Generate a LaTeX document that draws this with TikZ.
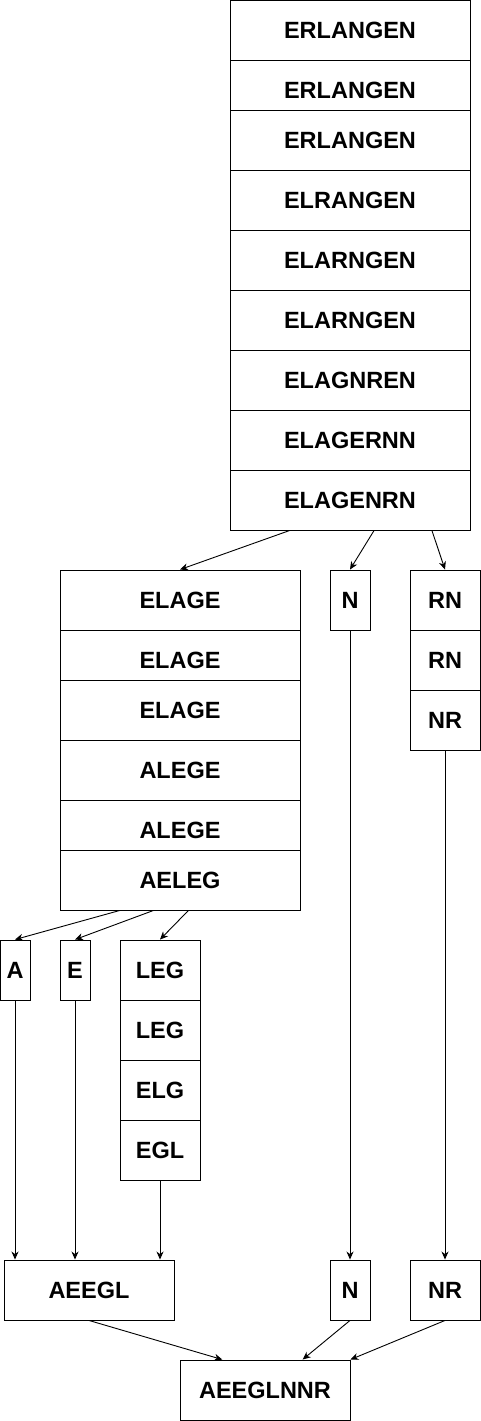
\documentclass[tikz,border=0pt]{standalone}
\usepackage{fontspec}
\setmainfont{Liberation Sans}
\usetikzlibrary{positioning,calc,arrows.meta}

\begin{document}
\begin{tikzpicture}[
x=1pt,y=-1pt,
cell/.style={
  draw,
  fill=white,
  inner sep=0pt,
  minimum height=60pt,
  font=\fontsize{23.5}{28}\selectfont\bfseries
  },
wide/.style={cell, minimum width=240pt},
slim/.style={cell, minimum width=30pt},
line width=0.9pt,
>={Stealth[length=8pt,width=7pt,inset=2.5pt]}
]
\useasboundingbox (0,0) rectangle (481,1421);

% first split
\foreach \y/\w [count=\i] in {30/ERLANGEN,90/ERLANGEN,140/ERLANGEN,200/ELRANGEN,
  260/ELARNGEN,320/ELARNGEN,380/ELAGNREN,440/ELAGERNN,500/ELAGENRN}
  \node[wide] (top-\i) at (350,\y) {\w};

% left part
\foreach \y/\w [count=\i] in {600/ELAGE,660/ELAGE,710/ELAGE,770/ALEGE,830/ALEGE,880/AELEG}
  \node[wide] (mid-\i) at (180,\y) {\w};
\node[cell, minimum width=40pt] (n1) at (350,600) {N};
\foreach \y/\w [count=\i] in {600/RN,660/RN,720/NR}
  \node[cell, minimum width=70pt] (rn-\i) at (445,\y) {\w};

% leaves
\node[slim] (a) at (15,970) {A};
\node[slim] (e) at (75,970) {E};
\foreach \y/\w [count=\i] in {970/LEG,1030/LEG,1090/ELG,1150/EGL}
  \node[cell, minimum width=80pt] (leg-\i) at (160,\y) {\w};

% merge
\node[cell, minimum width=170pt] (aeegl) at (89,1290) {AEEGL};
\node[cell, minimum width=40pt] (n2) at (350,1290) {N};
\node[cell, minimum width=70pt] (nr) at (445,1290) {NR};
\node[cell, minimum width=170pt] (fin) at (265,1390) {AEEGLNNR};

\draw[->] ($(top-9.south west)!0.25!(top-9.south east)$) -- (mid-1.north);
\draw[->] ($(top-9.south west)!0.6!(top-9.south east)$) -- (n1.north);
\draw[->] ($(top-9.south west)!0.84!(top-9.south east)$) -- (rn-1.north);

\draw[->] ($(mid-6.south west)!0.25!(mid-6.south east)$) -- (a.north);
\draw[->] ($(mid-6.south west)!0.39!(mid-6.south east)$) -- (e.north);
\draw[->] ($(mid-6.south west)!0.535!(mid-6.south east)$) -- (leg-1.north);

\draw[->] (a.south) -- (a.south |- aeegl.north);
\draw[->] (e.south) -- (e.south |- aeegl.north);
\draw[->] (leg-4.south) -- (leg-4.south |- aeegl.north);
\draw[->] (n1.south) -- (n2.north);
\draw[->] (rn-3.south) -- (nr.north);

\draw[->] (aeegl.south) -- ($(fin.north west)!0.25!(fin.north east)$);
\draw[->] (n2.south) -- ($(fin.north west)!0.72!(fin.north east)$);
\draw[->] (nr.south) -- (fin.north east);
\end{tikzpicture}
\end{document}
